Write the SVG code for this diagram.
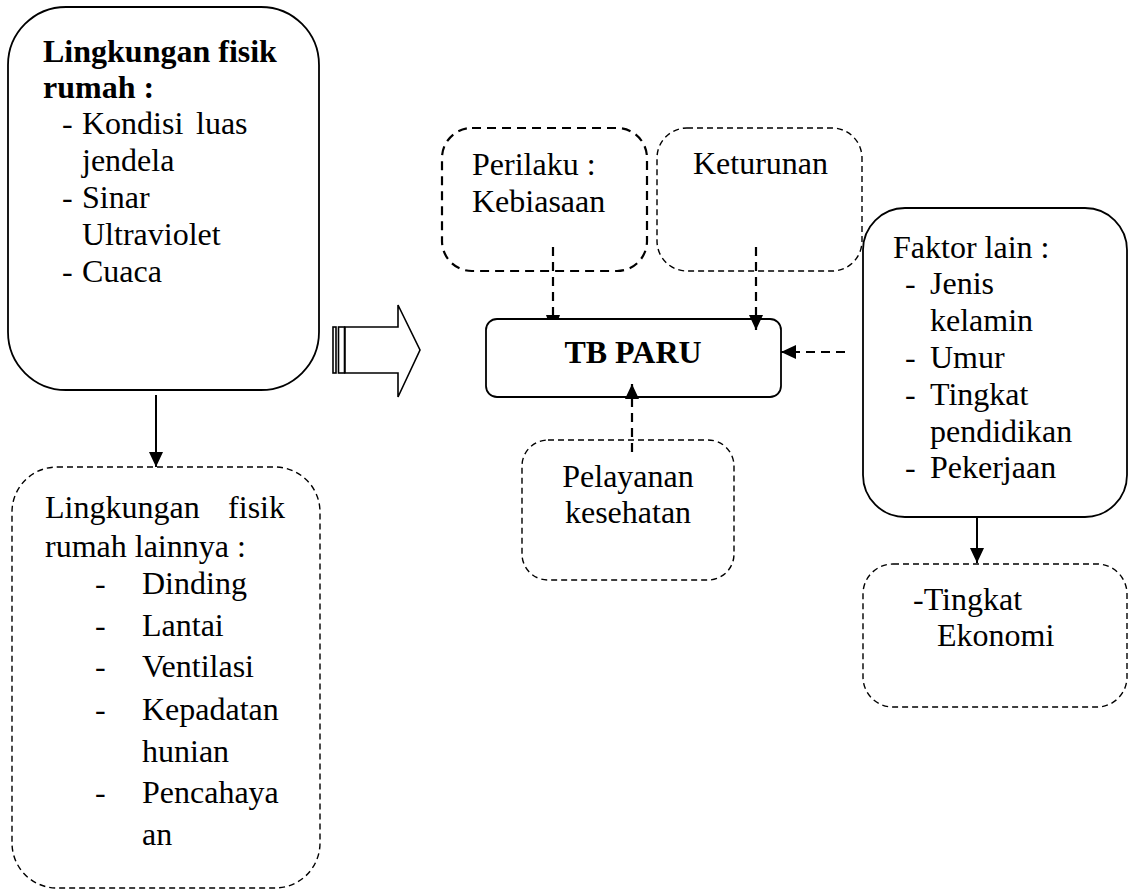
<svg xmlns="http://www.w3.org/2000/svg" width="1133" height="890" viewBox="0 0 1133 890">
<defs>
<style>
text{font-family:"Liberation Serif","Times New Roman",serif;font-size:32px;fill:#000}
.b{font-weight:bold}
.solid{fill:#fff;stroke:#000;stroke-width:1.8}
.dash{fill:#fff;stroke:#000;stroke-width:1.4;stroke-dasharray:6 4}
.dashb{fill:#fff;stroke:#000;stroke-width:2.2;stroke-dasharray:9 6}
.conn{fill:none;stroke:#000;stroke-width:2}
.dc{fill:none;stroke:#000;stroke-width:2.2;stroke-dasharray:9 6}
</style>
<marker id="ah" markerUnits="userSpaceOnUse" markerWidth="16" markerHeight="16" viewBox="0 0 16 16" refX="15" refY="8" orient="auto">
<path d="M0,1 L15,8 L0,15 Z" fill="#000"/>
</marker>
</defs>
<rect width="1133" height="890" fill="#fff"/>

<g id="keturunan">
<rect class="dash" x="657" y="128" width="205" height="143" rx="30"/>
<text x="693" y="174">Keturunan</text>
</g>
<g id="perilaku">
<rect class="dashb" x="442" y="128" width="205" height="143" rx="30"/>
<text x="472" y="175">Perilaku :</text>
<text x="472" y="212">Kebiasaan</text>
</g>

<g id="tb-paru">
<rect class="solid" x="486" y="319" width="295" height="78" rx="11"/>
<text class="b" x="633" y="363" text-anchor="middle">TB PARU</text>
</g>

<g id="lingkungan-fisik">
<rect class="solid" x="8" y="7" width="311" height="383" rx="58"/>
<text class="b" x="43" y="62">Lingkungan fisik</text>
<text class="b" x="43" y="98">rumah :</text>
<text x="62" y="134">-</text><text x="82" y="134">Kondisi</text><text x="196" y="134">luas</text>
<text x="82" y="171">jendela</text>
<text x="62" y="208">-</text><text x="82" y="208">Sinar</text>
<text x="82" y="245">Ultraviolet</text>
<text x="62" y="282">-</text><text x="82" y="282">Cuaca</text>
</g>

<g id="lingkungan-lainnya">
<rect class="dash" x="12" y="467" width="308" height="421" rx="45"/>
<text x="45" y="518">Lingkungan</text><text x="285" y="518" text-anchor="end">fisik</text>
<text x="45" y="557">rumah lainnya :</text>
<text x="95" y="594">-</text><text x="142" y="594">Dinding</text>
<text x="95" y="636">-</text><text x="142" y="636">Lantai</text>
<text x="95" y="677">-</text><text x="142" y="677">Ventilasi</text>
<text x="95" y="720">-</text><text x="142" y="720">Kepadatan</text>
<text x="142" y="762">hunian</text>
<text x="95" y="803">-</text><text x="142" y="803">Pencahaya</text>
<text x="142" y="845">an</text>
</g>

<g id="faktor-lain">
<rect class="solid" x="863" y="208" width="264" height="309" rx="42"/>
<text x="893" y="258">Faktor lain :</text>
<text x="905" y="294">-</text><text x="930" y="294">Jenis</text>
<text x="930" y="331">kelamin</text>
<text x="905" y="368">-</text><text x="930" y="368">Umur</text>
<text x="905" y="405">-</text><text x="930" y="405">Tingkat</text>
<text x="930" y="442">pendidikan</text>
<text x="905" y="478">-</text><text x="930" y="478">Pekerjaan</text>
</g>

<g id="tingkat-ekonomi">
<rect class="dash" x="863" y="564" width="264" height="143" rx="30"/>
<text x="913" y="610">-Tingkat</text>
<text x="937" y="646">Ekonomi</text>
</g>

<g id="pelayanan">
<rect class="dash" x="522" y="440" width="212" height="140" rx="26"/>
<text x="628" y="487" text-anchor="middle">Pelayanan</text>
<text x="628" y="523" text-anchor="middle">kesehatan</text>
</g>

<g id="connectors">
<g id="hollow-arrow" fill="#fff" stroke="#000" stroke-width="1.6">
<rect x="333" y="327" width="3" height="46"/>
<rect x="338.5" y="327" width="6" height="46"/>
<path d="M345,327 L398,327 L398,305 L420,350 L398,397 L398,373 L345,373 Z"/>
</g>
<line class="conn" x1="156" y1="395" x2="156" y2="467" marker-end="url(#ah)"/>
<line class="dc" x1="553" y1="247" x2="553" y2="316"/>
<path d="M546,315 L560,315 L558.5,319 L547.5,319 Z" fill="#000"/>
<line class="dc" x1="756" y1="247" x2="756" y2="330" marker-end="url(#ah)"/>
<line class="dc" x1="845" y1="352" x2="781" y2="352" marker-end="url(#ah)"/>
<line class="dc" x1="632" y1="452" x2="632" y2="384" marker-end="url(#ah)"/>
<line class="conn" x1="977" y1="517" x2="977" y2="563" marker-end="url(#ah)"/>
</g>
</svg>
